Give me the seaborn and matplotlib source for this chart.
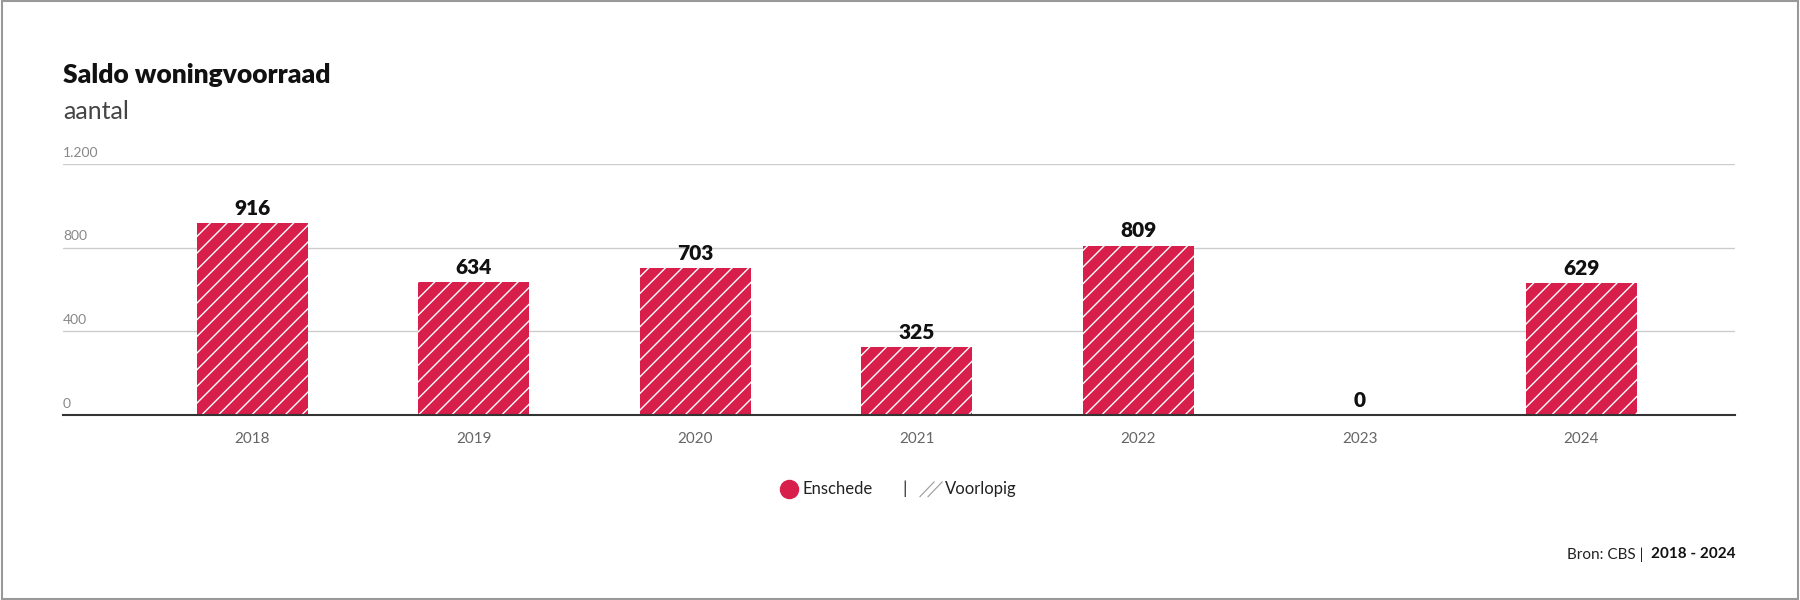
import matplotlib
matplotlib.use("Agg")
import matplotlib.pyplot as plt
import seaborn as sns
import pandas as pd
from matplotlib.lines import Line2D

years = ["2018", "2019", "2020", "2021", "2022", "2023", "2024"]
values = [916, 634, 703, 325, 809, 0, 629]
yticks = [0, 400, 800, 1200]
ytick_labels = ["0", "400", "800", "1.200"]

sns.set_theme(style="white")
plt.rcParams["font.family"] = ["Lato", "DejaVu Sans"]
plt.rcParams["hatch.linewidth"] = 1.0

RED = "#D81E4A"
fig = plt.figure(figsize=(18, 6), dpi=100)
ax = fig.add_axes([0.035, 0.308, 0.929, 0.419])
df = pd.DataFrame({"year": years, "value": values})
sns.barplot(data=df, x="year", y="value", color=RED, width=0.5, ax=ax,
            saturation=1, edgecolor="white", linewidth=0)
for p in ax.patches:
    p.set_hatch("//")
    try:
        p.set_hatchcolor("white")
    except AttributeError:
        pass
for i, v in enumerate(values):
    ax.text(i, v + 25, str(v), ha="center", va="bottom", fontsize=15,
            fontweight="heavy", color="#111111")
ax.set_ylim(0, 1200)
ax.set_xlim(-0.855, 6.695)
ax.set_yticks(yticks)
ax.set_yticklabels([])
for y, l in zip(yticks, ytick_labels):
    ax.text(0.0, y + 25, l, transform=ax.get_yaxis_transform(), fontsize=10,
            color="#888888", ha="left", va="bottom")
ax.grid(axis="y", color="#cccccc", linewidth=1)
ax.set_axisbelow(True)
for s in ["top", "right", "left"]:
    ax.spines[s].set_visible(False)
ax.spines["bottom"].set_color("#333333")
ax.spines["bottom"].set_linewidth(1.5)
ax.tick_params(axis="x", length=0, labelsize=11, labelcolor="#666666", pad=12)
ax.tick_params(axis="y", length=0)
ax.set_xlabel("")
ax.set_ylabel("")

fig.text(0.035, 0.875, "Saldo woningvoorraad", fontsize=19, fontweight="heavy", color="#111111", va="center")
fig.text(0.035, 0.815, "aantal", fontsize=18, color="#444444", va="center")

fig.text(0.5025, 0.185, "|", fontsize=13, color="#333333", ha="center", va="center")
fig.text(0.446, 0.185, "Enschede", fontsize=12, color="#222222", va="center")
fig.text(0.525, 0.185, "Voorlopig", fontsize=12, color="#222222", va="center")
fig.add_artist(Line2D([0.4385], [0.185], marker="o", color=RED, markersize=13, transform=fig.transFigure))
fig.add_artist(Line2D([0.511, 0.519], [0.172, 0.197], color="#999999", lw=0.8, transform=fig.transFigure))
fig.add_artist(Line2D([0.5155, 0.5235], [0.172, 0.197], color="#999999", lw=0.8, transform=fig.transFigure))

fig.text(0.913, 0.076, "Bron: CBS |", fontsize=11, color="#222222", ha="right", va="center")
fig.text(0.964, 0.076, "2018 - 2024", fontsize=11, color="#111111", fontweight="bold", ha="right", va="center")
fig.add_artist(plt.Rectangle((0.001, 0.002), 0.998, 0.996, fill=False, edgecolor="#999999", lw=1.5, transform=fig.transFigure))
fig.savefig("out.png", dpi=100, facecolor="white")
